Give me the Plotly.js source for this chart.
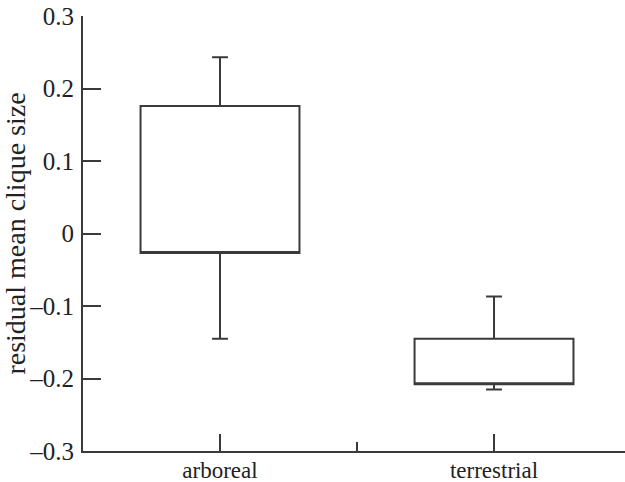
<!DOCTYPE html>
<html>
<head>
<meta charset="utf-8">
<script src="https://cdn.plot.ly/plotly-3.0.1.min.js"></script>
<style>html,body{margin:0;padding:0;background:#fff;}#chart{width:625px;height:482px;}</style>
</head>
<body>
<div id="chart"></div>
<script>
const categories = ["arboreal", "terrestrial"];
const q1 = [-0.027, -0.208];
const q3 = [0.176, -0.145];
const lowerWhisker = [-0.145, -0.215];
const upperWhisker = [0.243, -0.087];
const yTickVals = [-0.3, -0.2, -0.1, 0, 0.1, 0.2, 0.3];
const yTickText = ["\u20130.3", "\u20130.2", "\u20130.1", "0", "0.1", "0.2", "0.3"];

const xIdx = categories.map((c, i) => i);
const ink = "#3a3a3a";
const font = "Liberation Serif, Times New Roman, serif";

const trace = {
  type: "box",
  x: xIdx,
  q1: q1,
  median: q1,
  q3: q3,
  lowerfence: lowerWhisker,
  upperfence: upperWhisker,
  width: 0.58,
  whiskerwidth: 0.1,
  fillcolor: "rgba(0,0,0,0)",
  line: {color: ink, width: 2},
  boxpoints: false,
  hoverinfo: "skip",
  showlegend: false
};

const layout = {
  width: 625,
  height: 482,
  margin: {l: 83, r: 0, t: 16, b: 31},
  paper_bgcolor: "#fff",
  plot_bgcolor: "#fff",
  font: {family: font, color: "#222", size: 22},
  showlegend: false,
  xaxis: {
    range: [-0.5, 1.478],
    tickvals: xIdx,
    ticktext: categories,
    ticks: "inside",
    ticklen: 17,
    tickwidth: 2,
    tickcolor: ink,
    showline: true,
    linecolor: ink,
    linewidth: 2,
    showgrid: false,
    zeroline: false,
    ticklabelstandoff: -3,
    minor: {tickvals: [0.5], ticks: "inside", ticklen: 9, tickwidth: 2, tickcolor: ink, showgrid: false},
    tickfont: {family: font, size: 23, color: "#222"}
  },
  yaxis: {
    range: [-0.3, 0.3],
    tickvals: yTickVals,
    ticktext: yTickText,
    ticks: "inside",
    ticklen: 18,
    tickwidth: 2,
    tickcolor: ink,
    showline: true,
    linecolor: ink,
    linewidth: 2,
    showgrid: false,
    zeroline: false,
    ticklabelstandoff: 2,
    tickfont: {family: font, size: 25, color: "#222"},
    title: {text: "residual mean clique size", font: {family: font, size: 28, color: "#222"}, standoff: 2}
  }
};

Plotly.newPlot("chart", [trace], layout, {displayModeBar: false, staticPlot: true});
</script>
</body>
</html>
